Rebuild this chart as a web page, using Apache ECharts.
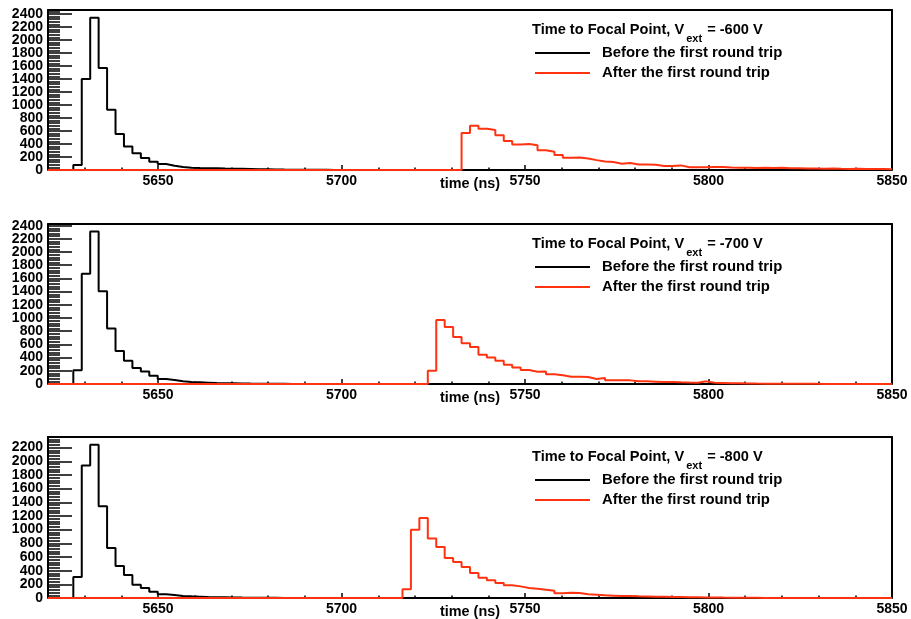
<!DOCTYPE html>
<html>
<head>
<meta charset="utf-8">
<script src="https://cdn.jsdelivr.net/npm/echarts@6/dist/echarts.min.js"></script>
<style>
html,body{margin:0;padding:0;background:#fff;}
#chart{width:911px;height:619px;}
</style>
</head>
<body>
<div id="chart"></div>
<script>
// ---------- data ----------
const binLow = 5620;          // ns, lower edge of first bin
const binWidth = 2.3;         // ns
const nBins = 100;
const xMin = 5620, xMax = 5850;
const xMajorTicks = [5650, 5700, 5750, 5800, 5850];
const xMinorTicks = [5630, 5640, 5660, 5670, 5680, 5690, 5710, 5720, 5730, 5740, 5760, 5770, 5780, 5790, 5810, 5820, 5830, 5840];
const yTicks600 = [0, 200, 400, 600, 800, 1000, 1200, 1400, 1600, 1800, 2000, 2200, 2400];
const yTicks700 = [0, 200, 400, 600, 800, 1000, 1200, 1400, 1600, 1800, 2000, 2200, 2400];
const yTicks800 = [0, 200, 400, 600, 800, 1000, 1200, 1400, 1600, 1800, 2000, 2200];
const yMax600 = 2460, yMax700 = 2425, yMax800 = 2355;
const voltages = ['-600', '-700', '-800'];
const seriesNames = ['Before the first round trip', 'After the first round trip'];
const titleText = 'Time to Focal Point, V';
const xTitle = 'time (ns)';

// black: before the first round trip (first non-empty bin index + contents)
const blackFirstBin600 = 3;
const black600 = [76, 1400, 2340, 1570, 925, 554, 361, 259, 183, 127, 91, 66, 46, 35, 30, 28, 25, 22, 20, 18, 15, 12, 10, 8, 6, 5, 4, 3, 2, 2, 1];
const blackFirstBin700 = 3;
const black700 = [210, 1670, 2310, 1406, 843, 502, 351, 241, 191, 126, 75, 60, 40, 30, 25, 20, 15, 12, 10, 8, 6, 5, 4, 3, 2, 1];
const blackFirstBin800 = 3;
const black800 = [307, 1937, 2240, 1342, 732, 468, 337, 195, 146, 93, 54, 44, 29, 24, 20, 15, 12, 10, 8, 6, 5, 4, 3, 2, 1];

// red: after the first round trip
const redFirstBin600 = 49;
const red600 = [570, 680, 635, 615, 533, 447, 391, 401, 381, 305, 279, 229, 188, 193, 178, 152, 132, 122, 97, 107, 86, 86, 81, 61, 61, 71, 41,
                41, 41, 46, 46, 38, 35, 36, 32, 33, 30, 34, 28, 25, 22, 24, 20, 22, 18, 17, 19, 15, 14, 15, 12];
const redFirstBin700 = 45;
const red700 = [200, 970, 863, 713, 617, 562, 442, 402, 351, 291, 251, 211, 186, 191, 146, 131, 110, 110, 105, 75, 90, 55, 55, 55, 40, 40, 35, 30, 32, 25, 22,
                20, 40, 18, 15, 12, 10, 8, 6, 5, 4, 3, 3, 2, 2, 2, 1, 1, 1, 1, 1];
const redFirstBin800 = 42;
const red800 = [127, 1000, 1170, 872, 745, 584, 526, 453, 365, 297, 258, 219, 185, 170, 146, 136, 122, 107, 68, 78, 73, 54, 49, 39, 34, 29, 29, 24,
                22, 20, 18, 15, 15, 12, 10, 8, 8, 6, 5, 4, 3, 2, 1];

// ---------- layout / style ----------
const FONT = "'Liberation Sans', Arial, Helvetica, sans-serif";
const RED = '#ff3311';
const gridLeft = 48, gridWidth = 844;
const panelTops = [10, 224, 437];
const panelHeights = [160, 160, 161];

function fill(first, values) {
  const arr = new Array(nBins).fill(0);
  values.forEach((v, i) => { if (first + i < nBins) arr[first + i] = v; });
  return arr;
}
function histPoints(contents) {
  const pts = contents.map((v, i) => [binLow + i * binWidth, v]);
  pts.push([binLow + nBins * binWidth, contents[nBins - 1]]);
  return pts;
}
function range(a, b, step) { const r = []; for (let v = a; v <= b + 1e-9; v += step) r.push(v); return r; }
const plain = v => String(Math.round(v));

const panels = [
  {volt: voltages[0], yMax: yMax600, yTicks: yTicks600, black: fill(blackFirstBin600, black600), red: fill(redFirstBin600, red600)},
  {volt: voltages[1], yMax: yMax700, yTicks: yTicks700, black: fill(blackFirstBin700, black700), red: fill(redFirstBin700, red700)},
  {volt: voltages[2], yMax: yMax800, yTicks: yTicks800, black: fill(blackFirstBin800, black800), red: fill(redFirstBin800, red800)}
];

const grid = [], xAxis = [], yAxis = [], series = [], graphic = [];
const labelStyle = {fontFamily: FONT, fontSize: 14, fontWeight: 'bold', color: '#000', formatter: plain,
                    showMinLabel: true, showMaxLabel: true, hideOverlap: false};

panels.forEach((p, k) => {
  const top = panelTops[k];
  const gi = k;
  grid.push({left: gridLeft, width: gridWidth, top: top, height: panelHeights[k], show: false,
             containLabel: false, outerBoundsMode: 'none'});
  const nx = xAxis.length, ny = yAxis.length;
  // main x axis (labels + major ticks)
  xAxis.push({type: 'value', gridIndex: gi, min: xMin, max: xMax, position: 'bottom', z: 0,
    axisLine: {show: false, onZero: false},
    axisTick: {show: true, inside: true, length: 5, customValues: xMajorTicks, lineStyle: {color: '#000', width: 1.5}},
    axisLabel: Object.assign({show: true, margin: 4, customValues: xMajorTicks}, labelStyle),
    splitLine: {show: false}});
  // minor x ticks
  xAxis.push({type: 'value', gridIndex: gi, min: xMin, max: xMax, position: 'bottom', z: 0,
    axisLine: {show: false, onZero: false},
    axisTick: {show: true, inside: true, length: 2.5, customValues: xMinorTicks, lineStyle: {color: '#000', width: 1.5}},
    axisLabel: {show: false}, splitLine: {show: false}});
  // top frame line
  xAxis.push({type: 'value', gridIndex: gi, min: xMin, max: xMax, position: 'top', z: 0,
    axisLine: {show: true, onZero: false, lineStyle: {color: '#000', width: 2}},
    axisTick: {show: false}, axisLabel: {show: false}, splitLine: {show: false}});
  // y axis: major ticks + line
  yAxis.push({type: 'value', gridIndex: gi, min: 0, max: p.yMax, position: 'left', z: 0,
    axisLine: {show: true, onZero: false, lineStyle: {color: '#000', width: 2}},
    axisTick: {show: true, inside: true, length: 24, customValues: p.yTicks, lineStyle: {color: '#000', width: 1.5}},
    axisLabel: {show: false}, splitLine: {show: false}});
  // y labels split in two interleaved sets so none of them overlap
  [0, 1].forEach(par => {
    const vals = p.yTicks.filter((v, i) => i % 2 === par);
    yAxis.push({type: 'value', gridIndex: gi, min: 0, max: p.yMax, position: 'left', z: 0,
      axisLine: {show: false, onZero: false}, axisTick: {show: false},
      axisLabel: Object.assign({show: true, margin: 5, customValues: vals}, labelStyle),
      splitLine: {show: false}});
  });
  // minor y ticks
  yAxis.push({type: 'value', gridIndex: gi, min: 0, max: p.yMax, position: 'left', z: 0,
    axisLine: {show: false, onZero: false},
    axisTick: {show: true, inside: true, length: 12, customValues: range(0, p.yMax, 40), lineStyle: {color: '#000', width: 1.5}},
    axisLabel: {show: false}, splitLine: {show: false}});
  // right frame line
  yAxis.push({type: 'value', gridIndex: gi, min: 0, max: p.yMax, position: 'right', z: 0,
    axisLine: {show: true, onZero: false, lineStyle: {color: '#000', width: 2}},
    axisTick: {show: false}, axisLabel: {show: false}, splitLine: {show: false}});

  series.push({name: seriesNames[0], type: 'line', xAxisIndex: nx, yAxisIndex: ny, step: 'end', clip: false,
    symbol: 'none', data: histPoints(p.black), lineStyle: {color: '#000', width: 2}, itemStyle: {color: '#000'}, z: 2});
  series.push({name: seriesNames[1], type: 'line', xAxisIndex: nx, yAxisIndex: ny, step: 'end', clip: false,
    symbol: 'none', data: histPoints(p.red), lineStyle: {color: RED, width: 2}, itemStyle: {color: RED}, z: 6});

  // legend block
  graphic.push({type: 'text', x: 532, y: top + 20, z: 10, style: {
    text: '{a|' + titleText + '}{s|ext}{a| = ' + p.volt + ' V}',
    verticalAlign: 'middle',
    rich: {
      a: {fontFamily: FONT, fontSize: 14.6, fontWeight: 'bold', fill: '#000', color: '#000'},
      s: {fontFamily: FONT, fontSize: 11, fontWeight: 'bold', fill: '#000', color: '#000', padding: [18, 1, 0, 2]}
    }}});
  graphic.push({type: 'line', z: 10, shape: {x1: 535, y1: top + 43, x2: 590, y2: top + 43}, style: {stroke: '#000', lineWidth: 2}});
  graphic.push({type: 'text', x: 602, y: top + 43, z: 10, style: {text: seriesNames[0], fontFamily: FONT, fontSize: 14.9, fontWeight: 'bold', fill: '#000', verticalAlign: 'middle'}});
  graphic.push({type: 'line', z: 10, shape: {x1: 535, y1: top + 63, x2: 590, y2: top + 63}, style: {stroke: RED, lineWidth: 2}});
  graphic.push({type: 'text', x: 602, y: top + 63, z: 10, style: {text: seriesNames[1], fontFamily: FONT, fontSize: 14.9, fontWeight: 'bold', fill: '#000', verticalAlign: 'middle'}});
  // x axis title
  graphic.push({type: 'text', x: 440, y: top + panelHeights[k] + 14, z: 10, style: {text: xTitle, fontFamily: FONT, fontSize: 14.4, fontWeight: 'bold', fill: '#000', verticalAlign: 'middle'}});
});

const chart = echarts.init(document.getElementById('chart'), null, {renderer: 'canvas'});
chart.setOption({
  animation: false,
  backgroundColor: '#fff',
  grid, xAxis, yAxis, series, graphic
});
</script>
</body>
</html>
